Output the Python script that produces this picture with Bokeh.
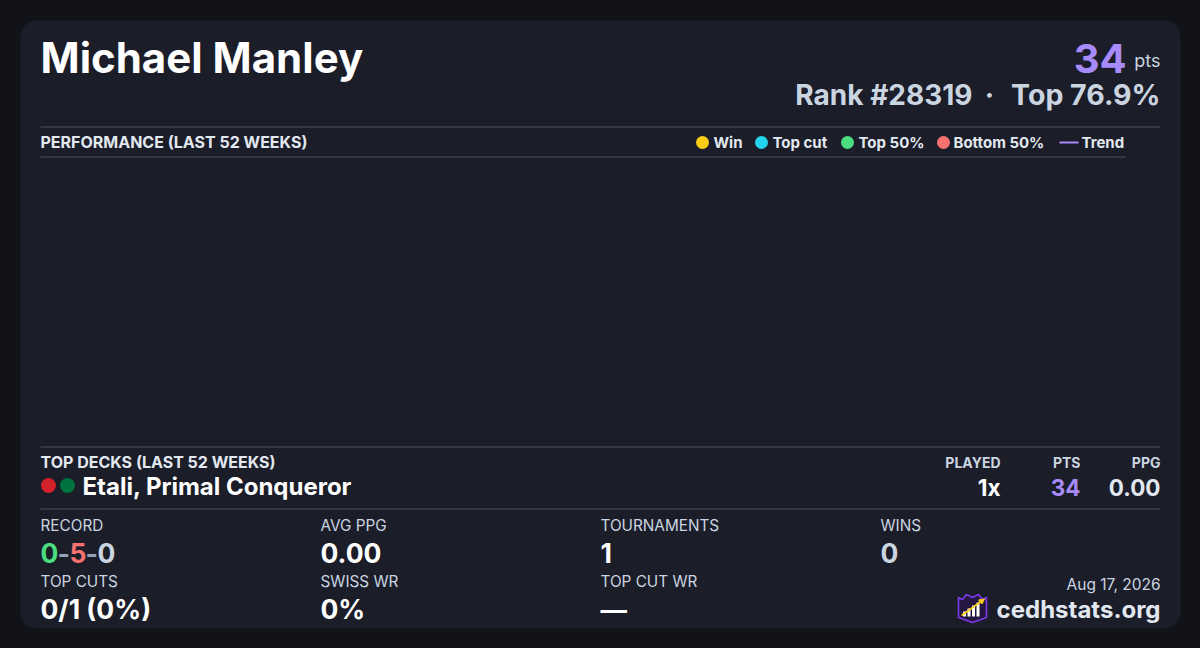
from bokeh.plotting import figure
from bokeh.models import Range1d, BoxAnnotation, ColumnDataSource
from bokeh.core.properties import value
from bokeh.embed import file_html
from bokeh.resources import INLINE

# ---------------- data ----------------
player_name = "Michael Manley"
points_total = "34"
rank_text = "Rank #28319"
top_pct_text = "Top 76.9%"

legend_labels = ["Win", "Top cut", "Top 50%", "Bottom 50%"]
legend_colors = ["#facc15", "#22d3ee", "#4ade80", "#f87171"]
trend_label = "Trend"
trend_color = "#a78bfa"

# performance series (empty in the reference: no games plotted)
perf_weeks = []
perf_points = []

deck_name = "Etali, Primal Conqueror"
deck_colors = ["#d3202a", "#00733e"]
deck_headers = ["PLAYED", "PTS", "PPG"]
deck_values = ["1x", "34", "0.00"]

record_parts = ["0", "-", "5", "-", "0"]
stat_labels_row1 = ["RECORD", "AVG PPG", "TOURNAMENTS", "WINS"]
stat_values_row1 = [None, "0.00", "1", "0"]
stat_labels_row2 = ["TOP CUTS", "SWISS WR", "TOP CUT WR"]
stat_values_row2 = ["0/1 (0%)", "0%", "\u2014"]
date_text = "Aug 17, 2026"
site_text = "cedhstats.org"

# ---------------- styles ----------------
OUTER = "#121318"
CARD = "#1b1d28"
RULE = "#4a5568"
WHITE = "#ffffff"
LIGHT = "#e2e8f0"
MUTED = "#cbd5e1"
PURPLE = "#a78bfa"
FONT = "Inter"
K = 0.375  # baseline correction for Bokeh text placement

p = figure(width=1184, height=632, output_backend="svg", toolbar_location=None,
           x_range=Range1d(0, 1184), y_range=Range1d(632, 0),
           x_axis_type=None, y_axis_type=None, min_border=0)
p.grid.visible = False
p.outline_line_color = None
p.background_fill_color = OUTER
p.border_fill_color = OUTER

card = BoxAnnotation(left=20, right=1180, top=20, bottom=628, fill_color=CARD,
                     fill_alpha=1.0, line_color=None, border_radius=16, level="underlay")
p.add_layout(card)


def txt(x, y, s, size, color, bold=False, align="left"):
    p.text(x=[x], y=[y - K * size], text=[s], text_font=value(FONT),
           text_font_size=f"{size}px",
           text_font_style="bold" if bold else "normal", text_color=color,
           text_align=align, text_baseline="alphabetic")


# header
txt(40, 73, player_name, 42, WHITE, bold=True)
txt(1126, 73, points_total, 40, PURPLE, bold=True, align="right")
txt(1160, 67, "pts", 18, MUTED, align="right")
txt(972, 105, rank_text, 28, MUTED, bold=True, align="right")
txt(989, 105, "\u00b7", 28, MUTED, bold=True, align="center")
txt(1160, 105, top_pct_text, 28.5, MUTED, bold=True, align="right")

# rules
p.segment(x0=[40, 40, 40, 40], y0=[126.5, 156.5, 446.5, 508.5],
          x1=[1160, 1125, 1160, 1160], y1=[126.5, 156.5, 446.5, 508.5],
          line_color=RULE, line_width=1)

# performance section
txt(40, 147.5, "PERFORMANCE (LAST 52 WEEKS)", 16, LIGHT, bold=True)
legend_dot_x = [702, 761, 847, 943]
legend_text_x = [713, 772, 858, 953]
p.scatter(x=legend_dot_x, y=[142] * len(legend_labels), size=13,
          fill_color=legend_colors, line_color=None)
p.text(x=legend_text_x, y=[147.3 - K * 15] * len(legend_labels), text=legend_labels,
       text_font=value(FONT), text_font_size="15px", text_font_style="bold",
       text_color=LIGHT, text_baseline="alphabetic")
p.segment(x0=[1059], y0=[142], x1=[1078], y1=[142], line_color=trend_color, line_width=2)
txt(1081, 147.3, trend_label, 15, LIGHT, bold=True)

perf_src = ColumnDataSource(dict(x=perf_weeks, y=perf_points))
p.scatter("x", "y", source=perf_src, size=8, color=trend_color)

# top decks
txt(40, 467.5, "TOP DECKS (LAST 52 WEEKS)", 16, LIGHT, bold=True)
p.scatter(x=[48, 67], y=[485, 485], size=15, fill_color=deck_colors, line_color=None)
txt(82, 495, deck_name, 24, WHITE, bold=True)
col_right = [1000, 1080, 1160]
value_colors = [WHITE, PURPLE, LIGHT]
for xr, h, v, c in zip(col_right, deck_headers, deck_values, value_colors):
    txt(xr, 467.3, h, 14, MUTED, bold=True, align="right")
    txt(xr, 495, v, 22.5, c, bold=True, align="right")

# stats grid
col_x = [40, 320, 600, 880]
for x, lab in zip(col_x, stat_labels_row1):
    txt(x, 530.7, lab, 15.3, MUTED)
for x, lab in zip(col_x, stat_labels_row2):
    txt(x, 586.7, lab, 15.3, MUTED)

record_x = [40, 57, 69, 85, 97]
record_colors = ["#4ade80", "#94a3b8", "#f87171", "#94a3b8", MUTED]
for x, s, c in zip(record_x, record_parts, record_colors):
    txt(x, 562.5, s, 26.5, c, bold=True)
row1_colors = [None, WHITE, WHITE, MUTED]
for x, v, c in zip(col_x, stat_values_row1, row1_colors):
    if v is not None:
        txt(x, 562.5, v, 26.5, c, bold=True)
for x, v in zip(col_x, stat_values_row2):
    txt(x, 618, v, 26.5, WHITE, bold=True)

# footer
txt(1160, 590, date_text, 15.5, MUTED, align="right")
txt(1160, 618, site_text, 24, LIGHT, bold=True, align="right")

# logo
p.patch(x=[958, 958, 962, 966, 972, 978, 982, 986, 986, 972, 958],
        y=[617, 597, 599, 594, 597, 594, 599, 597, 617, 622, 617],
        fill_color="#24163f", line_color="#7c3aed", line_width=1.6)
p.vbar(x=[964, 968.5, 973, 977.5], bottom=[616, 616, 616, 616],
       top=[611, 608, 605, 602], width=3, fill_color=WHITE, line_color=None)
p.segment(x0=[961], y0=[615], x1=[982], y1=[600], line_color="#facc15", line_width=1.6)
p.patch(x=[984, 978, 981.5], y=[598.5, 599.5, 603.5], fill_color="#facc15", line_color="#facc15")

html = file_html(p, INLINE, title="cedhstats")
html = html.replace("<body>", '<body style="margin:0;background-color:%s;">' % OUTER)
open("out.html", "w").write(html)
